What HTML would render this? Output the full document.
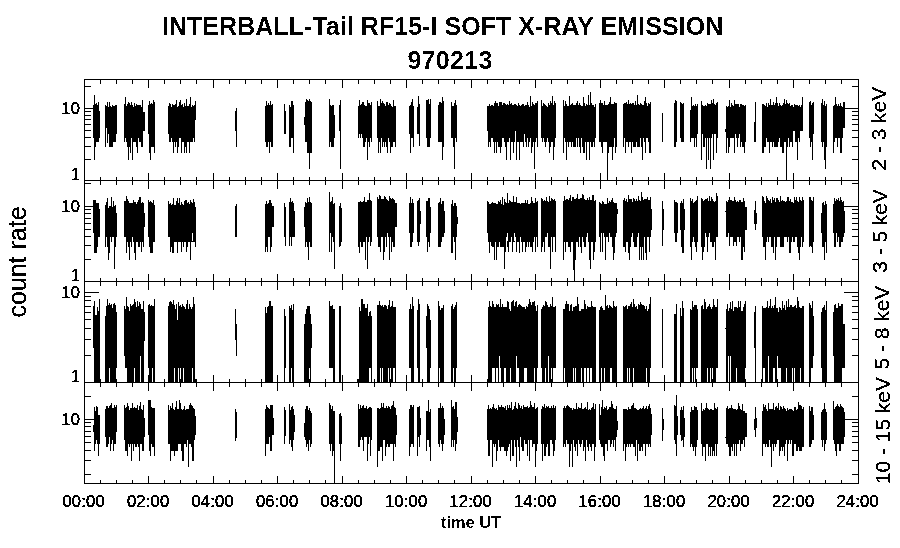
<!DOCTYPE html>
<html lang="en"><head><meta charset="utf-8"><title>INTERBALL-Tail RF15-I SOFT X-RAY EMISSION 970213</title>
<style>html,body{margin:0;padding:0;background:#fff}body{width:900px;height:548px;overflow:hidden}svg{display:block}text{font-family:"Liberation Sans",sans-serif;fill:#000;stroke:#000;stroke-width:.22px;stroke-linejoin:round}text[font-weight=bold]{stroke-width:0}text.big{stroke-width:.05px}</style></head><body>
<svg width="900" height="548" viewBox="0 0 900 548">
<rect width="900" height="548" fill="#fff"/>
<g shape-rendering="crispEdges">
<path d="M93 105v33h1v-33zM94 95v65h1v-65zM95 104v43h1v-43zM96 103v39h1v-39zM97 105v37h1v-37zM98 102v40h1v-40zM99 111v27h1v-27zM105 105v42h1v-42zM106 106v22h1v-22zM107 102v41h1v-41zM108 107v27h1v-27zM109 102v45h1v-45zM110 106v41h1v-41zM111 107v40h1v-40zM112 105v42h1v-42zM113 106v36h1v-36zM114 106v36h1v-36zM115 105v37h1v-37zM116 105v29h1v-29zM124 104v38h1v-38zM125 97v41h1v-41zM126 106v36h1v-36zM127 104v43h1v-43zM128 102v58h1v-58zM129 103v44h1v-44zM130 105v48h1v-48zM131 102v36h1v-36zM132 105v55h1v-55zM133 107v35h1v-35zM134 103v39h1v-39zM135 106v36h1v-36zM136 104v43h1v-43zM137 105v48h1v-48zM138 105v33h1v-33zM139 105v37h1v-37zM140 105v37h1v-37zM141 107v40h1v-40zM142 100v47h1v-47zM143 112v19h1v-19zM144 112v19h1v-19zM148 105v29h1v-29zM149 101v52h1v-52zM150 104v56h1v-56zM151 103v44h1v-44zM152 104v43h1v-43zM153 100v47h1v-47zM154 102v51h1v-51zM168 106v28h1v-28zM169 103v39h1v-39zM170 104v38h1v-38zM171 107v31h1v-31zM172 104v38h1v-38zM173 105v48h1v-48zM174 105v37h1v-37zM175 104v43h1v-43zM176 100v42h1v-42zM177 107v46h1v-46zM178 106v41h1v-41zM179 102v36h1v-36zM180 100v38h1v-38zM181 105v48h1v-48zM182 104v38h1v-38zM183 107v35h1v-35zM184 103v50h1v-50zM185 106v41h1v-41zM186 99v54h1v-54zM187 106v36h1v-36zM188 106v36h1v-36zM189 104v49h1v-49zM190 97v45h1v-45zM191 107v35h1v-35zM192 105v37h1v-37zM193 106v32h1v-32zM194 105v37h1v-37zM195 101v19h1v-19zM235 111v20h1v-20zM236 108v39h1v-39zM265 106v36h1v-36zM266 101v46h1v-46zM267 105v42h1v-42zM268 103v39h1v-39zM269 105v48h1v-48zM270 101v41h1v-41zM271 105v42h1v-42zM272 104v43h1v-43zM284 104v30h1v-30zM285 111v23h1v-23zM289 105v42h1v-42zM290 107v40h1v-40zM291 101v37h1v-37zM292 101v37h1v-37zM293 105v48h1v-48zM304 117v8h1v-8zM305 102v40h1v-40zM306 99v43h1v-43zM307 100v53h1v-53zM308 101v52h1v-52zM309 99v70h1v-70zM310 101v52h1v-52zM311 102v51h1v-51zM329 99v48h1v-48zM330 105v37h1v-37zM331 106v41h1v-41zM332 105v42h1v-42zM333 105v42h1v-42zM334 115v23h1v-23zM339 105v26h1v-26zM340 100v69h1v-69zM358 106v32h1v-32zM359 100v34h1v-34zM360 105v33h1v-33zM361 104v30h1v-30zM362 102v36h1v-36zM363 102v45h1v-45zM364 105v42h1v-42zM365 106v36h1v-36zM366 106v32h1v-32zM367 100v60h1v-60zM368 103v39h1v-39zM369 103v44h1v-44zM370 105v33h1v-33zM371 102v40h1v-40zM377 101v37h1v-37zM378 106v47h1v-47zM379 106v36h1v-36zM380 99v54h1v-54zM381 103v35h1v-35zM382 101v46h1v-46zM383 103v39h1v-39zM384 104v43h1v-43zM385 106v36h1v-36zM386 102v45h1v-45zM387 102v51h1v-51zM388 105v33h1v-33zM389 103v39h1v-39zM390 104v49h1v-49zM391 106v41h1v-41zM392 107v40h1v-40zM393 100v42h1v-42zM394 106v36h1v-36zM395 106v41h1v-41zM409 106v28h1v-28zM410 105v48h1v-48zM411 102v36h1v-36zM412 99v39h1v-39zM413 106v41h1v-41zM417 107v27h1v-27zM418 96v38h1v-38zM419 104v42h1v-42zM426 100v38h1v-38zM427 100v47h1v-47zM428 99v48h1v-48zM429 104v43h1v-43zM430 99v39h1v-39zM438 105v37h1v-37zM439 102v40h1v-40zM440 102v40h1v-40zM441 103v39h1v-39zM442 97v63h1v-63zM443 101v46h1v-46zM451 102v36h1v-36zM452 106v32h1v-32zM453 106v41h1v-41zM454 103v66h1v-66zM455 100v38h1v-38zM456 105v37h1v-37zM487 106v25h1v-25zM488 106v41h1v-41zM489 104v38h1v-38zM490 106v41h1v-41zM491 105v33h1v-33zM492 105v33h1v-33zM493 106v36h1v-36zM494 103v50h1v-50zM495 101v41h1v-41zM496 103v50h1v-50zM497 103v39h1v-39zM498 106v41h1v-41zM499 102v45h1v-45zM500 102v51h1v-51zM501 102v45h1v-45zM502 105v33h1v-33zM503 103v35h1v-35zM504 103v39h1v-39zM505 104v43h1v-43zM506 105v55h1v-55zM507 104v38h1v-38zM508 105v37h1v-37zM509 101v37h1v-37zM510 104v56h1v-56zM511 103v39h1v-39zM512 105v37h1v-37zM513 105v48h1v-48zM514 104v38h1v-38zM515 104v38h1v-38zM516 105v55h1v-55zM517 106v36h1v-36zM518 103v39h1v-39zM519 105v55h1v-55zM520 106v36h1v-36zM521 105v37h1v-37zM522 104v38h1v-38zM523 104v43h1v-43zM524 106v36h1v-36zM525 105v37h1v-37zM526 105v42h1v-42zM527 102v36h1v-36zM528 105v42h1v-42zM529 107v35h1v-35zM530 96v42h1v-42zM531 106v47h1v-47zM532 102v45h1v-45zM533 104v38h1v-38zM534 105v64h1v-64zM535 103v39h1v-39zM536 103v35h1v-35zM537 101v46h1v-46zM541 100v38h1v-38zM542 106v36h1v-36zM543 103v35h1v-35zM544 104v38h1v-38zM545 105v42h1v-42zM546 106v36h1v-36zM547 107v31h1v-31zM548 103v39h1v-39zM549 105v48h1v-48zM550 101v46h1v-46zM551 103v39h1v-39zM552 96v46h1v-46zM553 105v55h1v-55zM554 101v46h1v-46zM555 103v35h1v-35zM563 100v53h1v-53zM564 106v32h1v-32zM565 101v41h1v-41zM566 104v56h1v-56zM567 106v36h1v-36zM568 106v41h1v-41zM569 96v46h1v-46zM570 105v37h1v-37zM571 104v43h1v-43zM572 103v39h1v-39zM573 105v42h1v-42zM574 105v42h1v-42zM575 105v42h1v-42zM576 103v35h1v-35zM577 101v46h1v-46zM578 105v33h1v-33zM579 103v44h1v-44zM580 105v48h1v-48zM581 106v32h1v-32zM582 106v41h1v-41zM583 97v56h1v-56zM584 103v50h1v-50zM585 106v36h1v-36zM586 104v56h1v-56zM587 105v37h1v-37zM588 95v47h1v-47zM589 105v55h1v-55zM590 92v50h1v-50zM591 103v44h1v-44zM592 105v42h1v-42zM593 105v37h1v-37zM594 107v40h1v-40zM595 104v34h1v-34zM599 103v39h1v-39zM600 100v42h1v-42zM601 103v44h1v-44zM602 103v50h1v-50zM603 105v37h1v-37zM604 101v41h1v-41zM605 105v37h1v-37zM606 105v37h1v-37zM607 105v75h1v-75zM608 104v49h1v-49zM609 102v45h1v-45zM610 97v50h1v-50zM611 104v43h1v-43zM612 104v56h1v-56zM613 104v43h1v-43zM614 102v36h1v-36zM615 103v50h1v-50zM616 103v44h1v-44zM623 104v43h1v-43zM624 103v35h1v-35zM625 103v50h1v-50zM626 102v40h1v-40zM627 104v38h1v-38zM628 100v47h1v-47zM629 104v38h1v-38zM630 103v39h1v-39zM631 104v49h1v-49zM632 103v39h1v-39zM633 103v44h1v-44zM634 105v42h1v-42zM635 101v46h1v-46zM636 105v37h1v-37zM637 95v52h1v-52zM638 104v43h1v-43zM639 105v42h1v-42zM640 103v35h1v-35zM641 104v43h1v-43zM642 105v55h1v-55zM643 105v33h1v-33zM644 101v41h1v-41zM645 97v56h1v-56zM646 103v35h1v-35zM647 106v32h1v-32zM648 103v39h1v-39zM649 104v49h1v-49zM650 102v51h1v-51zM662 113v29h1v-29zM674 103v44h1v-44zM675 100v47h1v-47zM676 101v41h1v-41zM680 102v36h1v-36zM681 103v39h1v-39zM682 104v38h1v-38zM683 103v39h1v-39zM690 110v32h1v-32zM691 97v41h1v-41zM692 106v32h1v-32zM693 105v33h1v-33zM694 106v41h1v-41zM695 104v34h1v-34zM696 106v41h1v-41zM697 104v30h1v-30zM701 101v59h1v-59zM702 105v29h1v-29zM703 106v41h1v-41zM704 106v41h1v-41zM705 105v33h1v-33zM706 106v63h1v-63zM707 103v35h1v-35zM708 104v56h1v-56zM709 104v34h1v-34zM710 104v65h1v-65zM711 100v38h1v-38zM712 103v31h1v-31zM713 99v61h1v-61zM714 104v30h1v-30zM715 105v29h1v-29zM716 103v50h1v-50zM717 102v36h1v-36zM725 129v3h1v-3zM726 106v47h1v-47zM727 107v31h1v-31zM728 106v47h1v-47zM729 100v47h1v-47zM730 107v31h1v-31zM731 103v35h1v-35zM732 105v33h1v-33zM733 106v32h1v-32zM734 100v53h1v-53zM735 104v30h1v-30zM736 104v34h1v-34zM737 104v43h1v-43zM738 104v34h1v-34zM739 107v27h1v-27zM740 104v43h1v-43zM741 104v38h1v-38zM742 105v42h1v-42zM743 105v42h1v-42zM744 106v47h1v-47zM745 105v37h1v-37zM754 122v20h1v-20zM755 102v40h1v-40zM762 104v49h1v-49zM763 104v49h1v-49zM764 105v42h1v-42zM765 106v41h1v-41zM766 103v35h1v-35zM767 107v35h1v-35zM768 103v39h1v-39zM769 105v48h1v-48zM770 99v43h1v-43zM771 105v37h1v-37zM772 105v42h1v-42zM773 102v40h1v-40zM774 105v42h1v-42zM775 103v44h1v-44zM776 97v50h1v-50zM777 103v44h1v-44zM778 106v36h1v-36zM779 103v35h1v-35zM780 105v42h1v-42zM781 106v41h1v-41zM782 105v48h1v-48zM783 103v50h1v-50zM784 99v43h1v-43zM785 104v38h1v-38zM786 100v80h1v-80zM787 103v44h1v-44zM788 104v34h1v-34zM789 103v44h1v-44zM790 106v36h1v-36zM791 105v37h1v-37zM792 105v42h1v-42zM793 107v31h1v-31zM794 104v38h1v-38zM795 105v37h1v-37zM796 105v37h1v-37zM797 105v55h1v-55zM798 106v32h1v-32zM799 105v37h1v-37zM800 107v24h1v-24zM801 105v26h1v-26zM802 97v34h1v-34zM809 102v36h1v-36zM810 101v46h1v-46zM811 105v37h1v-37zM812 103v57h1v-57zM813 102v32h1v-32zM821 103v39h1v-39zM822 99v48h1v-48zM823 105v37h1v-37zM824 101v59h1v-59zM825 106v63h1v-63zM826 104v43h1v-43zM833 106v47h1v-47zM834 105v37h1v-37zM835 97v41h1v-41zM836 104v34h1v-34zM837 106v41h1v-41zM838 104v34h1v-34zM839 106v32h1v-32zM840 103v50h1v-50zM841 106v47h1v-47zM842 107v31h1v-31zM843 102v26h1v-26zM844 102v26h1v-26z" fill="#000"/><path d="M515 131v11h1v-11zM524 134v8h1v-8zM793 131v11h2v-11z" fill="#fff"/>
<path d="M93 200v33h1v-33zM94 200v53h1v-53zM95 200v53h1v-53zM96 203v50h1v-50zM97 203v44h1v-44zM98 203v34h1v-34zM99 209v28h1v-28zM105 205v42h1v-42zM106 202v35h1v-35zM107 198v49h1v-49zM108 208v52h1v-52zM109 206v47h1v-47zM110 206v31h1v-31zM111 197v45h1v-45zM112 207v30h1v-30zM113 201v36h1v-36zM114 206v63h1v-63zM115 205v42h1v-42zM116 213v24h1v-24zM124 201v36h1v-36zM125 201v36h1v-36zM126 196v57h1v-57zM127 199v43h1v-43zM128 201v46h1v-46zM129 203v57h1v-57zM130 203v39h1v-39zM131 203v44h1v-44zM132 203v34h1v-34zM133 200v42h1v-42zM134 202v51h1v-51zM135 202v58h1v-58zM136 204v38h1v-38zM137 202v40h1v-40zM138 200v47h1v-47zM139 197v50h1v-50zM140 197v45h1v-45zM141 203v49h1v-49zM142 202v40h1v-40zM143 203v44h1v-44zM144 213v14h1v-14zM148 200v37h1v-37zM149 202v45h1v-45zM150 201v52h1v-52zM151 202v51h1v-51zM152 203v50h1v-50zM153 200v42h1v-42zM154 205v37h1v-37zM168 201v36h1v-36zM169 204v33h1v-33zM170 203v49h1v-49zM171 205v42h1v-42zM172 204v49h1v-49zM173 198v55h1v-55zM174 205v37h1v-37zM175 205v37h1v-37zM176 201v41h1v-41zM177 198v55h1v-55zM178 203v39h1v-39zM179 198v44h1v-44zM180 205v37h1v-37zM181 202v50h1v-50zM182 204v38h1v-38zM183 205v42h1v-42zM184 201v41h1v-41zM185 200v42h1v-42zM186 200v52h1v-52zM187 203v44h1v-44zM188 202v40h1v-40zM189 204v38h1v-38zM190 200v60h1v-60zM191 202v40h1v-40zM192 203v39h1v-39zM193 199v43h1v-43zM194 202v40h1v-40zM195 207v40h1v-40zM235 206v31h1v-31zM236 204v33h1v-33zM265 204v48h1v-48zM266 201v46h1v-46zM267 204v48h1v-48zM268 203v34h1v-34zM269 200v37h1v-37zM270 200v52h1v-52zM271 203v44h1v-44zM272 206v21h1v-21zM273 206v21h1v-21zM284 203v34h1v-34zM285 207v39h1v-39zM289 202v44h1v-44zM290 198v39h1v-39zM291 202v44h1v-44zM292 201v36h1v-36zM293 203v34h1v-34zM294 211v26h1v-26zM304 207v20h1v-20zM305 202v45h1v-45zM306 203v39h1v-39zM307 198v49h1v-49zM308 202v58h1v-58zM309 197v45h1v-45zM310 202v45h1v-45zM311 203v44h1v-44zM329 192v60h1v-60zM330 202v31h1v-31zM331 201v51h1v-51zM332 197v40h1v-40zM333 204v38h1v-38zM334 203v66h1v-66zM339 206v41h1v-41zM340 203v43h1v-43zM341 208v34h1v-34zM358 202v45h1v-45zM359 202v51h1v-51zM360 201v41h1v-41zM361 202v45h1v-45zM362 202v45h1v-45zM363 201v41h1v-41zM364 197v45h1v-45zM365 202v58h1v-58zM366 202v35h1v-35zM367 200v69h1v-69zM368 200v42h1v-42zM369 193v44h1v-44zM370 200v46h1v-46zM371 201v41h1v-41zM377 197v40h1v-40zM378 199v48h1v-48zM379 195v52h1v-52zM380 196v56h1v-56zM381 199v38h1v-38zM382 199v38h1v-38zM383 199v61h1v-61zM384 196v56h1v-56zM385 197v40h1v-40zM386 199v48h1v-48zM387 200v37h1v-37zM388 201v36h1v-36zM389 196v64h1v-64zM390 198v39h1v-39zM391 199v53h1v-53zM392 198v44h1v-44zM393 199v48h1v-48zM394 200v47h1v-47zM395 203v24h1v-24zM396 203v24h1v-24zM409 203v30h1v-30zM410 197v50h1v-50zM411 203v44h1v-44zM412 199v43h1v-43zM413 203v30h1v-30zM417 201v41h1v-41zM418 200v46h1v-46zM419 198v44h1v-44zM420 211v13h1v-13zM426 201v36h1v-36zM427 201v51h1v-51zM428 198v44h1v-44zM429 198v49h1v-49zM430 207v26h1v-26zM438 203v44h1v-44zM439 202v45h1v-45zM440 198v49h1v-49zM441 204v38h1v-38zM442 201v36h1v-36zM443 201v36h1v-36zM444 211v22h1v-22zM451 204v49h1v-49zM452 200v53h1v-53zM453 206v31h1v-31zM454 203v39h1v-39zM455 203v57h1v-57zM456 206v31h1v-31zM457 217v7h1v-7zM487 201v32h1v-32zM488 202v40h1v-40zM489 204v49h1v-49zM490 204v38h1v-38zM491 203v43h1v-43zM492 202v45h1v-45zM493 203v44h1v-44zM494 203v57h1v-57zM495 203v39h1v-39zM496 204v56h1v-56zM497 204v43h1v-43zM498 201v46h1v-46zM499 202v40h1v-40zM500 200v47h1v-47zM501 204v43h1v-43zM502 197v50h1v-50zM503 205v42h1v-42zM504 199v70h1v-70zM505 202v50h1v-50zM506 203v34h1v-34zM507 193v54h1v-54zM508 203v49h1v-49zM509 200v42h1v-42zM510 201v41h1v-41zM511 202v35h1v-35zM512 202v50h1v-50zM513 196v46h1v-46zM514 202v40h1v-40zM515 202v35h1v-35zM516 197v55h1v-55zM517 203v39h1v-39zM518 203v39h1v-39zM519 203v50h1v-50zM520 204v33h1v-33zM521 203v39h1v-39zM522 203v49h1v-49zM523 203v39h1v-39zM524 203v39h1v-39zM525 200v52h1v-52zM526 203v44h1v-44zM527 200v42h1v-42zM528 204v43h1v-43zM529 204v38h1v-38zM530 203v44h1v-44zM531 197v50h1v-50zM532 201v51h1v-51zM533 203v39h1v-39zM534 203v34h1v-34zM535 198v54h1v-54zM536 202v35h1v-35zM537 201v46h1v-46zM541 198v54h1v-54zM542 199v48h1v-48zM543 201v41h1v-41zM544 200v52h1v-52zM545 201v36h1v-36zM546 197v40h1v-40zM547 201v32h1v-32zM548 202v45h1v-45zM549 196v51h1v-51zM550 201v68h1v-68zM551 198v39h1v-39zM552 199v53h1v-53zM553 200v37h1v-37zM554 199v38h1v-38zM555 201v51h1v-51zM563 201v59h1v-59zM564 196v46h1v-46zM565 200v52h1v-52zM566 199v43h1v-43zM567 199v43h1v-43zM568 200v47h1v-47zM569 198v49h1v-49zM570 195v57h1v-57zM571 201v41h1v-41zM572 197v45h1v-45zM573 197v73h1v-73zM574 199v82h1v-82zM575 199v61h1v-61zM576 198v44h1v-44zM577 194v48h1v-48zM578 199v48h1v-48zM579 199v38h1v-38zM580 198v49h1v-49zM581 198v55h1v-55zM582 194v43h1v-43zM583 195v47h1v-47zM584 199v48h1v-48zM585 200v47h1v-47zM586 200v37h1v-37zM587 198v39h1v-39zM588 200v42h1v-42zM589 197v63h1v-63zM590 200v69h1v-69zM591 200v42h1v-42zM592 195v47h1v-47zM593 195v65h1v-65zM594 201v51h1v-51zM595 200v42h1v-42zM599 202v35h1v-35zM600 203v49h1v-49zM601 204v29h1v-29zM602 201v51h1v-51zM603 202v31h1v-31zM604 204v33h1v-33zM605 204v56h1v-56zM606 204v33h1v-33zM607 198v39h1v-39zM608 203v39h1v-39zM609 201v32h1v-32zM610 202v35h1v-35zM611 200v37h1v-37zM612 198v49h1v-49zM613 202v58h1v-58zM614 203v50h1v-50zM615 203v34h1v-34zM616 203v30h1v-30zM617 209v5h1v-5zM623 200v47h1v-47zM624 198v49h1v-49zM625 201v51h1v-51zM626 199v43h1v-43zM627 202v40h1v-40zM628 195v58h1v-58zM629 199v61h1v-61zM630 199v48h1v-48zM631 199v38h1v-38zM632 202v31h1v-31zM633 198v44h1v-44zM634 199v48h1v-48zM635 201v46h1v-46zM636 199v48h1v-48zM637 201v36h1v-36zM638 196v37h1v-37zM639 200v60h1v-60zM640 201v46h1v-46zM641 192v68h1v-68zM642 197v50h1v-50zM643 200v60h1v-60zM644 199v38h1v-38zM645 199v54h1v-54zM646 199v61h1v-61zM647 197v40h1v-40zM648 200v37h1v-37zM649 200v52h1v-52zM650 197v40h1v-40zM651 209v21h1v-21zM662 201v45h1v-45zM663 209v21h1v-21zM674 200v33h1v-33zM675 202v40h1v-40zM676 202v40h1v-40zM677 203v30h1v-30zM680 203v27h1v-27zM681 201v46h1v-46zM682 203v50h1v-50zM683 199v54h1v-54zM684 209v21h1v-21zM690 198v49h1v-49zM691 201v59h1v-59zM692 199v43h1v-43zM693 203v34h1v-34zM694 202v40h1v-40zM695 201v46h1v-46zM696 200v52h1v-52zM697 196v46h1v-46zM701 198v49h1v-49zM702 199v61h1v-61zM703 201v51h1v-51zM704 200v47h1v-47zM705 199v34h1v-34zM706 199v38h1v-38zM707 198v54h1v-54zM708 201v36h1v-36zM709 196v37h1v-37zM710 201v41h1v-41zM711 197v45h1v-45zM712 199v48h1v-48zM713 201v46h1v-46zM714 202v40h1v-40zM715 201v59h1v-59zM716 193v44h1v-44zM717 196v41h1v-41zM725 211v1h1v-1zM726 201v36h1v-36zM727 202v35h1v-35zM728 200v33h1v-33zM729 197v49h1v-49zM730 200v37h1v-37zM731 200v37h1v-37zM732 201v36h1v-36zM733 201v45h1v-45zM734 197v45h1v-45zM735 200v42h1v-42zM736 202v44h1v-44zM737 201v36h1v-36zM738 202v35h1v-35zM739 200v42h1v-42zM740 200v37h1v-37zM741 202v58h1v-58zM742 202v58h1v-58zM743 198v49h1v-49zM744 201v51h1v-51zM745 207v23h1v-23zM746 207v23h1v-23zM754 210v14h1v-14zM755 201v29h1v-29zM756 213v11h1v-11zM762 196v41h1v-41zM763 197v50h1v-50zM764 201v46h1v-46zM765 203v57h1v-57zM766 196v46h1v-46zM767 198v39h1v-39zM768 200v42h1v-42zM769 201v36h1v-36zM770 199v38h1v-38zM771 203v44h1v-44zM772 197v50h1v-50zM773 200v53h1v-53zM774 198v39h1v-39zM775 202v58h1v-58zM776 198v49h1v-49zM777 198v39h1v-39zM778 200v37h1v-37zM779 202v35h1v-35zM780 196v51h1v-51zM781 201v46h1v-46zM782 200v47h1v-47zM783 201v46h1v-46zM784 201v36h1v-36zM785 202v35h1v-35zM786 201v36h1v-36zM787 197v45h1v-45zM788 197v40h1v-40zM789 201v52h1v-52zM790 199v54h1v-54zM791 202v40h1v-40zM792 202v35h1v-35zM793 203v39h1v-39zM794 197v45h1v-45zM795 200v37h1v-37zM796 197v40h1v-40zM797 201v46h1v-46zM798 202v51h1v-51zM799 197v63h1v-63zM800 200v47h1v-47zM801 201v36h1v-36zM802 197v50h1v-50zM803 200v42h1v-42zM809 197v50h1v-50zM810 197v49h1v-49zM811 200v47h1v-47zM812 201v52h1v-52zM813 197v45h1v-45zM821 213v20h1v-20zM822 203v44h1v-44zM823 202v45h1v-45zM824 205v55h1v-55zM825 201v41h1v-41zM826 204v49h1v-49zM833 204v29h1v-29zM834 198v49h1v-49zM835 201v46h1v-46zM836 199v34h1v-34zM837 200v42h1v-42zM838 198v39h1v-39zM839 201v46h1v-46zM840 197v50h1v-50zM841 200v42h1v-42zM842 202v40h1v-40zM843 201v36h1v-36zM844 211v22h1v-22z" fill="#000"/><path d="M192 233v8h1v-8zM387 233v6h1v-6zM507 233v8h1v-8zM514 233v8h1v-8zM587 233v8h1v-8z" fill="#fff"/>
<path d="M93 306v76h1v-76zM94 301v81h1v-81zM95 315v67h1v-67zM96 315v67h1v-67zM97 307v75h1v-75zM98 311v71h1v-71zM99 299v83h1v-83zM100 379v3h1v-3zM105 316v66h1v-66zM106 306v76h1v-76zM107 299v83h1v-83zM108 305v77h1v-77zM109 303v79h1v-79zM110 305v77h1v-77zM111 304v78h1v-78zM112 308v74h1v-74zM113 304v78h1v-78zM114 303v79h1v-79zM115 305v77h1v-77zM116 312v70h1v-70zM124 306v76h1v-76zM125 309v73h1v-73zM126 297v85h1v-85zM127 306v76h1v-76zM128 307v75h1v-75zM129 311v71h1v-71zM130 304v78h1v-78zM131 306v76h1v-76zM132 305v77h1v-77zM133 304v78h1v-78zM134 299v83h1v-83zM135 302v80h1v-80zM136 307v75h1v-75zM137 301v81h1v-81zM138 306v76h1v-76zM139 302v80h1v-80zM140 304v78h1v-78zM141 309v73h1v-73zM142 309v73h1v-73zM143 301v81h1v-81zM144 312v70h1v-70zM148 305v77h1v-77zM149 304v78h1v-78zM150 306v76h1v-76zM151 305v77h1v-77zM152 306v76h1v-76zM153 306v76h1v-76zM154 299v83h1v-83zM168 306v76h1v-76zM169 302v80h1v-80zM170 301v81h1v-81zM171 302v80h1v-80zM172 304v78h1v-78zM173 300v82h1v-82zM174 305v77h1v-77zM175 309v73h1v-73zM176 304v78h1v-78zM177 320v62h1v-62zM178 302v80h1v-80zM179 306v76h1v-76zM180 305v77h1v-77zM181 307v75h1v-75zM182 304v78h1v-78zM183 306v76h1v-76zM184 307v75h1v-75zM185 309v73h1v-73zM186 304v78h1v-78zM187 300v82h1v-82zM188 309v73h1v-73zM189 304v78h1v-78zM190 307v75h1v-75zM191 309v73h1v-73zM192 307v75h1v-75zM193 297v85h1v-85zM194 304v78h1v-78zM195 379v3h1v-3zM235 309v73h1v-73zM236 324v58h1v-58zM265 307v75h1v-75zM266 313v69h1v-69zM267 307v75h1v-75zM268 306v76h1v-76zM269 301v81h1v-81zM270 301v81h1v-81zM271 306v76h1v-76zM272 306v76h1v-76zM284 309v73h1v-73zM285 316v66h1v-66zM289 306v76h1v-76zM290 308v74h1v-74zM291 305v77h1v-77zM292 310v72h1v-72zM293 304v78h1v-78zM304 324v58h1v-58zM305 314v68h1v-68zM306 309v73h1v-73zM307 306v76h1v-76zM308 306v76h1v-76zM309 306v76h1v-76zM310 314v68h1v-68zM311 324v58h1v-58zM329 301v81h1v-81zM330 306v76h1v-76zM331 306v76h1v-76zM332 305v77h1v-77zM333 309v73h1v-73zM334 309v73h1v-73zM339 306v76h1v-76zM340 306v76h1v-76zM358 379v3h1v-3zM359 307v75h1v-75zM360 311v71h1v-71zM361 299v83h1v-83zM362 299v83h1v-83zM363 304v78h1v-78zM364 304v78h1v-78zM365 308v74h1v-74zM366 308v74h1v-74zM367 304v78h1v-78zM368 316v66h1v-66zM369 312v70h1v-70zM370 311v71h1v-71zM371 316v66h1v-66zM377 305v77h1v-77zM378 305v77h1v-77zM379 301v81h1v-81zM380 305v77h1v-77zM381 306v76h1v-76zM382 305v77h1v-77zM383 307v75h1v-75zM384 305v77h1v-77zM385 305v77h1v-77zM386 306v76h1v-76zM387 309v73h1v-73zM388 305v77h1v-77zM389 300v82h1v-82zM390 307v75h1v-75zM391 306v76h1v-76zM392 301v81h1v-81zM393 307v75h1v-75zM394 307v75h1v-75zM395 307v75h1v-75zM409 309v73h1v-73zM410 304v78h1v-78zM411 309v73h1v-73zM412 297v85h1v-85zM413 306v76h1v-76zM417 310v72h1v-72zM418 299v83h1v-83zM419 304v78h1v-78zM426 316v66h1v-66zM427 304v78h1v-78zM428 306v76h1v-76zM429 309v73h1v-73zM430 320v62h1v-62zM438 301v81h1v-81zM439 306v76h1v-76zM440 310v72h1v-72zM441 308v74h1v-74zM442 308v74h1v-74zM443 305v77h1v-77zM451 306v76h1v-76zM452 304v78h1v-78zM453 309v73h1v-73zM454 307v75h1v-75zM455 305v77h1v-77zM456 302v80h1v-80zM487 379v3h1v-3zM488 307v75h1v-75zM489 301v81h1v-81zM490 306v76h1v-76zM491 307v75h1v-75zM492 301v81h1v-81zM493 304v78h1v-78zM494 307v75h1v-75zM495 307v75h1v-75zM496 304v78h1v-78zM497 305v77h1v-77zM498 304v78h1v-78zM499 307v75h1v-75zM500 299v83h1v-83zM501 307v75h1v-75zM502 304v78h1v-78zM503 307v75h1v-75zM504 307v75h1v-75zM505 307v75h1v-75zM506 307v75h1v-75zM507 301v81h1v-81zM508 302v80h1v-80zM509 309v73h1v-73zM510 311v71h1v-71zM511 302v80h1v-80zM512 301v81h1v-81zM513 300v82h1v-82zM514 306v76h1v-76zM515 302v80h1v-80zM516 301v81h1v-81zM517 307v75h1v-75zM518 305v77h1v-77zM519 304v78h1v-78zM520 305v77h1v-77zM521 306v76h1v-76zM522 307v75h1v-75zM523 307v75h1v-75zM524 307v75h1v-75zM525 309v73h1v-73zM526 306v76h1v-76zM527 307v75h1v-75zM528 304v78h1v-78zM529 299v83h1v-83zM530 302v80h1v-80zM531 305v77h1v-77zM532 302v80h1v-80zM533 302v80h1v-80zM534 301v81h1v-81zM535 306v76h1v-76zM536 311v71h1v-71zM537 305v77h1v-77zM541 309v73h1v-73zM542 307v75h1v-75zM543 305v77h1v-77zM544 306v76h1v-76zM545 301v81h1v-81zM546 302v80h1v-80zM547 305v77h1v-77zM548 307v75h1v-75zM549 307v75h1v-75zM550 304v78h1v-78zM551 306v76h1v-76zM552 297v85h1v-85zM553 307v75h1v-75zM554 307v75h1v-75zM555 306v76h1v-76zM563 309v73h1v-73zM564 309v73h1v-73zM565 304v78h1v-78zM566 301v81h1v-81zM567 304v78h1v-78zM568 304v78h1v-78zM569 311v71h1v-71zM570 305v77h1v-77zM571 304v78h1v-78zM572 311v71h1v-71zM573 307v75h1v-75zM574 307v75h1v-75zM575 306v76h1v-76zM576 306v76h1v-76zM577 297v85h1v-85zM578 304v78h1v-78zM579 311v71h1v-71zM580 311v71h1v-71zM581 309v73h1v-73zM582 309v73h1v-73zM583 309v73h1v-73zM584 300v82h1v-82zM585 304v78h1v-78zM586 309v73h1v-73zM587 306v76h1v-76zM588 307v75h1v-75zM589 307v75h1v-75zM590 307v75h1v-75zM591 301v81h1v-81zM592 306v76h1v-76zM593 307v75h1v-75zM594 307v75h1v-75zM595 307v75h1v-75zM599 310v72h1v-72zM600 307v75h1v-75zM601 306v76h1v-76zM602 308v74h1v-74zM603 310v72h1v-72zM604 310v72h1v-72zM605 295v87h1v-87zM606 306v76h1v-76zM607 305v77h1v-77zM608 308v74h1v-74zM609 305v77h1v-77zM610 306v76h1v-76zM611 307v75h1v-75zM612 308v74h1v-74zM613 301v81h1v-81zM614 306v76h1v-76zM615 307v75h1v-75zM616 306v76h1v-76zM623 306v76h1v-76zM624 307v75h1v-75zM625 306v76h1v-76zM626 305v77h1v-77zM627 309v73h1v-73zM628 306v76h1v-76zM629 306v76h1v-76zM630 304v78h1v-78zM631 302v80h1v-80zM632 307v75h1v-75zM633 299v83h1v-83zM634 304v78h1v-78zM635 307v75h1v-75zM636 306v76h1v-76zM637 309v73h1v-73zM638 304v78h1v-78zM639 305v77h1v-77zM640 302v80h1v-80zM641 304v78h1v-78zM642 305v77h1v-77zM643 305v77h1v-77zM644 306v76h1v-76zM645 309v73h1v-73zM646 306v76h1v-76zM647 311v71h1v-71zM648 309v73h1v-73zM649 304v78h1v-78zM650 297v85h1v-85zM662 309v73h1v-73zM674 314v68h1v-68zM675 314v68h1v-68zM676 304v78h1v-78zM680 308v74h1v-74zM681 316v66h1v-66zM682 301v81h1v-81zM683 308v74h1v-74zM690 309v73h1v-73zM691 310v72h1v-72zM692 301v81h1v-81zM693 307v75h1v-75zM694 305v77h1v-77zM695 305v77h1v-77zM696 305v77h1v-77zM697 309v73h1v-73zM701 306v76h1v-76zM702 305v77h1v-77zM703 309v73h1v-73zM704 299v83h1v-83zM705 302v80h1v-80zM706 309v73h1v-73zM707 307v75h1v-75zM708 306v76h1v-76zM709 304v78h1v-78zM710 307v75h1v-75zM711 309v73h1v-73zM712 307v75h1v-75zM713 299v83h1v-83zM714 305v77h1v-77zM715 307v75h1v-75zM716 307v75h1v-75zM717 299v83h1v-83zM725 328v1h1v-1zM726 309v73h1v-73zM727 304v78h1v-78zM728 311v71h1v-71zM729 308v74h1v-74zM730 302v80h1v-80zM731 309v73h1v-73zM732 301v81h1v-81zM733 311v71h1v-71zM734 307v75h1v-75zM735 307v75h1v-75zM736 307v75h1v-75zM737 308v74h1v-74zM738 301v81h1v-81zM739 307v75h1v-75zM740 301v81h1v-81zM741 311v71h1v-71zM742 311v71h1v-71zM743 307v75h1v-75zM744 304v78h1v-78zM745 301v81h1v-81zM754 312v70h1v-70zM755 306v76h1v-76zM762 306v76h1v-76zM763 308v74h1v-74zM764 308v74h1v-74zM765 308v74h1v-74zM766 307v75h1v-75zM767 301v81h1v-81zM768 308v74h1v-74zM769 306v76h1v-76zM770 299v83h1v-83zM771 308v74h1v-74zM772 306v76h1v-76zM773 308v74h1v-74zM774 305v77h1v-77zM775 297v85h1v-85zM776 308v74h1v-74zM777 308v74h1v-74zM778 312v70h1v-70zM779 307v75h1v-75zM780 308v74h1v-74zM781 310v72h1v-72zM782 301v81h1v-81zM783 308v74h1v-74zM784 305v77h1v-77zM785 310v72h1v-72zM786 301v81h1v-81zM787 307v75h1v-75zM788 299v83h1v-83zM789 307v75h1v-75zM790 305v77h1v-77zM791 305v77h1v-77zM792 307v75h1v-75zM793 307v75h1v-75zM794 306v76h1v-76zM795 305v77h1v-77zM796 308v74h1v-74zM797 297v85h1v-85zM798 301v81h1v-81zM799 307v75h1v-75zM800 308v74h1v-74zM801 308v74h1v-74zM802 306v76h1v-76zM803 306v76h1v-76zM809 303v79h1v-79zM810 305v77h1v-77zM811 308v74h1v-74zM812 301v81h1v-81zM813 316v66h1v-66zM821 312v70h1v-70zM822 308v74h1v-74zM823 307v75h1v-75zM824 305v77h1v-77zM825 310v72h1v-72zM826 301v81h1v-81zM833 312v70h1v-70zM834 305v77h1v-77zM835 304v78h1v-78zM836 308v74h1v-74zM837 308v74h1v-74zM838 303v79h1v-79zM839 306v76h1v-76zM840 306v76h1v-76zM841 304v78h1v-78zM842 304v78h1v-78zM843 324v58h1v-58zM844 324v58h1v-58z" fill="#000"/><path d="M93 348v34h1v-34zM124 356v26h1v-26zM125 368v14h2v-14zM144 341v41h1v-41zM148 368v7h1v-7zM236 356v26h1v-26zM235 340v42h1v-42zM285 368v14h1v-14zM311 348v34h1v-34zM329 368v14h4v-14zM358 356v23h1v-23zM409 368v14h2v-14zM417 368v14h1v-14zM426 348v34h1v-34zM430 368v14h1v-14zM456 368v14h2v-14zM487 356v23h1v-23zM662 368v14h1v-14zM716 368v14h2v-14zM754 348v34h1v-34zM811 368v14h2v-14zM813 356v26h1v-26zM821 368v14h1v-14zM833 356v26h1v-26zM842 368v14h3v-14zM109 368v14h1v-14zM116 368v11h1v-11zM134 368v14h1v-14zM140 356v26h1v-26zM152 368v14h1v-14zM174 368v14h1v-14zM178 368v14h1v-14zM180 368v11h1v-11zM183 368v14h1v-14zM192 368v14h1v-14zM291 368v14h1v-14zM309 368v11h1v-11zM369 368v14h2v-14zM380 368v14h1v-14zM382 368v14h1v-14zM388 368v14h1v-14zM390 368v11h1v-11zM393 368v14h2v-14zM439 368v14h1v-14zM453 368v14h1v-14zM492 368v14h3v-14zM496 368v14h2v-14zM499 356v26h1v-26zM500 368v14h1v-14zM504 368v14h2v-14zM510 368v14h1v-14zM516 356v26h1v-26zM517 368v14h2v-14zM524 368v14h3v-14zM534 368v14h1v-14zM537 368v14h1v-14zM541 368v14h1v-14zM545 368v14h1v-14zM548 356v26h1v-26zM551 368v14h1v-14zM553 368v14h1v-14zM554 368v14h2v-14zM564 368v14h1v-14zM573 368v14h1v-14zM575 368v14h1v-14zM581 368v14h1v-14zM584 368v14h2v-14zM587 368v14h2v-14zM590 368v14h2v-14zM601 368v14h1v-14zM604 368v14h1v-14zM610 368v14h2v-14zM627 368v14h1v-14zM629 368v14h1v-14zM633 368v14h1v-14zM646 368v14h1v-14zM650 368v14h2v-14zM692 368v14h1v-14zM694 368v14h1v-14zM696 368v14h2v-14zM707 368v14h1v-14zM710 368v14h1v-14zM712 368v11h1v-11zM728 356v26h1v-26zM730 356v26h1v-26zM736 368v14h1v-14zM745 368v11h1v-11zM763 368v14h2v-14zM768 356v26h1v-26zM773 368v14h2v-14zM777 356v23h1v-23zM778 368v14h3v-14zM786 368v14h1v-14zM792 368v14h1v-14zM794 368v14h1v-14zM800 368v14h1v-14z" fill="#fff"/><path d="M100 379v3h1v-3zM196 379v3h1v-3zM761 379v3h1v-3zM357 379v3h1v-3z" fill="#000"/>
<path d="M93 425v7h1v-7zM94 407v44h1v-44zM95 411v33h1v-33zM96 406v34h1v-34zM97 407v37h1v-37zM98 415v41h1v-41zM99 415v29h1v-29zM105 409v28h1v-28zM106 406v41h1v-41zM107 406v41h1v-41zM108 408v36h1v-36zM109 406v31h1v-31zM110 405v46h1v-46zM111 403v41h1v-41zM112 408v32h1v-32zM113 408v43h1v-43zM114 405v39h1v-39zM115 407v37h1v-37zM116 405v27h1v-27zM124 405v35h1v-35zM125 408v43h1v-43zM126 407v44h1v-44zM127 403v53h1v-53zM128 406v38h1v-38zM129 410v37h1v-37zM130 408v36h1v-36zM131 408v53h1v-53zM132 403v41h1v-41zM133 408v43h1v-43zM134 407v37h1v-37zM135 408v39h1v-39zM136 408v39h1v-39zM137 405v39h1v-39zM138 410v37h1v-37zM139 406v55h1v-55zM140 402v42h1v-42zM141 409v35h1v-35zM142 410v41h1v-41zM143 405v46h1v-46zM144 418v19h1v-19zM148 400v35h1v-35zM149 400v51h1v-51zM150 400v56h1v-56zM151 407v37h1v-37zM152 408v39h1v-39zM153 408v39h1v-39zM154 408v48h1v-48zM168 405v39h1v-39zM169 410v34h1v-34zM170 406v55h1v-55zM171 408v43h1v-43zM172 403v48h1v-48zM173 409v42h1v-42zM174 410v46h1v-46zM175 407v44h1v-44zM176 401v50h1v-50zM177 409v42h1v-42zM178 409v35h1v-35zM179 400v44h1v-44zM180 403v41h1v-41zM181 409v42h1v-42zM182 410v51h1v-51zM183 409v52h1v-52zM184 406v38h1v-38zM185 410v34h1v-34zM186 409v38h1v-38zM187 409v31h1v-31zM188 409v58h1v-58zM189 405v39h1v-39zM190 403v41h1v-41zM191 405v42h1v-42zM192 406v55h1v-55zM193 408v53h1v-53zM194 409v31h1v-31zM195 416v19h1v-19zM235 409v32h1v-32zM236 412v26h1v-26zM265 409v47h1v-47zM266 405v39h1v-39zM267 407v37h1v-37zM268 408v36h1v-36zM269 409v28h1v-28zM270 405v46h1v-46zM271 405v46h1v-46zM272 405v30h1v-30zM273 418v17h1v-17zM284 407v37h1v-37zM285 410v26h1v-26zM289 404v40h1v-40zM290 410v30h1v-30zM291 407v40h1v-40zM292 406v45h1v-45zM293 409v31h1v-31zM294 415v17h1v-17zM304 423v14h1v-14zM305 409v31h1v-31zM306 406v41h1v-41zM307 406v38h1v-38zM308 410v41h1v-41zM309 408v32h1v-32zM310 411v36h1v-36zM311 413v31h1v-31zM329 403v41h1v-41zM330 405v46h1v-46zM331 409v35h1v-35zM332 406v50h1v-50zM333 411v40h1v-40zM334 411v72h1v-72zM339 414v30h1v-30zM340 413v48h1v-48zM341 416v28h1v-28zM358 404v43h1v-43zM359 409v38h1v-38zM360 405v35h1v-35zM361 408v29h1v-29zM362 406v34h1v-34zM363 405v46h1v-46zM364 408v29h1v-29zM365 408v29h1v-29zM366 406v31h1v-31zM367 409v52h1v-52zM368 408v36h1v-36zM369 407v30h1v-30zM370 407v49h1v-49zM371 408v32h1v-32zM377 408v59h1v-59zM378 408v43h1v-43zM379 409v42h1v-42zM380 408v39h1v-39zM381 403v44h1v-44zM382 407v54h1v-54zM383 403v37h1v-37zM384 408v32h1v-32zM385 408v48h1v-48zM386 406v41h1v-41zM387 408v36h1v-36zM388 406v41h1v-41zM389 407v40h1v-40zM390 409v35h1v-35zM391 406v38h1v-38zM392 405v39h1v-39zM393 401v60h1v-60zM394 407v37h1v-37zM395 408v39h1v-39zM396 415v20h1v-20zM409 409v47h1v-47zM410 405v42h1v-42zM411 405v39h1v-39zM412 407v37h1v-37zM413 405v42h1v-42zM417 407v49h1v-49zM418 407v30h1v-30zM419 406v41h1v-41zM420 418v17h1v-17zM426 411v40h1v-40zM427 411v29h1v-29zM428 400v40h1v-40zM429 412v35h1v-35zM430 409v52h1v-52zM438 408v36h1v-36zM439 408v39h1v-39zM440 403v37h1v-37zM441 408v36h1v-36zM442 406v45h1v-45zM443 408v36h1v-36zM444 419v16h1v-16zM451 400v47h1v-47zM452 407v33h1v-33zM453 406v41h1v-41zM454 409v31h1v-31zM455 402v49h1v-49zM456 402v42h1v-42zM457 417v15h1v-15zM487 409v31h1v-31zM488 405v51h1v-51zM489 409v47h1v-47zM490 408v32h1v-32zM491 409v31h1v-31zM492 407v60h1v-60zM493 404v40h1v-40zM494 408v39h1v-39zM495 409v35h1v-35zM496 408v53h1v-53zM497 410v41h1v-41zM498 405v35h1v-35zM499 407v40h1v-40zM500 407v44h1v-44zM501 405v42h1v-42zM502 407v40h1v-40zM503 407v40h1v-40zM504 408v43h1v-43zM505 406v45h1v-45zM506 410v46h1v-46zM507 405v46h1v-46zM508 408v39h1v-39zM509 405v39h1v-39zM510 408v53h1v-53zM511 402v38h1v-38zM512 410v46h1v-46zM513 409v47h1v-47zM514 406v34h1v-34zM515 402v45h1v-45zM516 408v59h1v-59zM517 409v31h1v-31zM518 403v44h1v-44zM519 405v56h1v-56zM520 408v32h1v-32zM521 406v41h1v-41zM522 409v42h1v-42zM523 405v46h1v-46zM524 407v33h1v-33zM525 407v37h1v-37zM526 407v37h1v-37zM527 406v50h1v-50zM528 408v32h1v-32zM529 407v54h1v-54zM530 401v39h1v-39zM531 405v35h1v-35zM532 407v40h1v-40zM533 407v37h1v-37zM534 403v41h1v-41zM535 409v58h1v-58zM536 408v43h1v-43zM537 407v37h1v-37zM541 409v35h1v-35zM542 406v55h1v-55zM543 407v37h1v-37zM544 404v52h1v-52zM545 408v48h1v-48zM546 406v41h1v-41zM547 407v37h1v-37zM548 406v50h1v-50zM549 408v48h1v-48zM550 408v32h1v-32zM551 406v34h1v-34zM552 408v36h1v-36zM553 405v51h1v-51zM554 408v43h1v-43zM555 406v34h1v-34zM563 408v39h1v-39zM564 406v38h1v-38zM565 408v39h1v-39zM566 406v34h1v-34zM567 405v39h1v-39zM568 406v38h1v-38zM569 407v60h1v-60zM570 408v43h1v-43zM571 408v36h1v-36zM572 410v57h1v-57zM573 408v32h1v-32zM574 409v38h1v-38zM575 409v42h1v-42zM576 403v41h1v-41zM577 409v47h1v-47zM578 407v33h1v-33zM579 408v36h1v-36zM580 408v39h1v-39zM581 403v41h1v-41zM582 409v31h1v-31zM583 409v42h1v-42zM584 408v39h1v-39zM585 407v54h1v-54zM586 409v31h1v-31zM587 402v45h1v-45zM588 410v41h1v-41zM589 409v35h1v-35zM590 410v37h1v-37zM591 408v43h1v-43zM592 407v37h1v-37zM593 403v41h1v-41zM594 409v52h1v-52zM595 404v43h1v-43zM599 404v36h1v-36zM600 415v29h1v-29zM601 407v40h1v-40zM602 400v47h1v-47zM603 409v47h1v-47zM604 407v54h1v-54zM605 408v36h1v-36zM606 406v38h1v-38zM607 410v41h1v-41zM608 409v31h1v-31zM609 407v33h1v-33zM610 407v40h1v-40zM611 401v43h1v-43zM612 404v36h1v-36zM613 408v39h1v-39zM614 409v31h1v-31zM615 409v42h1v-42zM616 406v31h1v-31zM617 421v9h1v-9zM623 409v42h1v-42zM624 409v35h1v-35zM625 409v52h1v-52zM626 409v38h1v-38zM627 410v34h1v-34zM628 407v40h1v-40zM629 409v35h1v-35zM630 409v38h1v-38zM631 406v38h1v-38zM632 405v39h1v-39zM633 403v44h1v-44zM634 408v39h1v-39zM635 408v48h1v-48zM636 409v31h1v-31zM637 410v51h1v-51zM638 410v34h1v-34zM639 409v42h1v-42zM640 408v43h1v-43zM641 409v38h1v-38zM642 408v43h1v-43zM643 406v38h1v-38zM644 409v35h1v-35zM645 408v48h1v-48zM646 406v38h1v-38zM647 409v35h1v-35zM648 406v41h1v-41zM649 404v40h1v-40zM650 408v39h1v-39zM651 414v21h1v-21zM662 408v33h1v-33zM663 419v11h1v-11zM674 405v35h1v-35zM675 406v38h1v-38zM676 395v61h1v-61zM677 416v19h1v-19zM680 410v25h1v-25zM681 407v34h1v-34zM682 410v30h1v-30zM683 406v41h1v-41zM684 418v19h1v-19zM690 412v35h1v-35zM691 407v37h1v-37zM692 410v37h1v-37zM693 410v41h1v-41zM694 406v41h1v-41zM695 407v49h1v-49zM696 407v40h1v-40zM697 410v30h1v-30zM701 403v41h1v-41zM702 411v45h1v-45zM703 409v38h1v-38zM704 410v37h1v-37zM705 408v53h1v-53zM706 403v41h1v-41zM707 408v36h1v-36zM708 409v47h1v-47zM709 410v37h1v-37zM710 409v47h1v-47zM711 409v38h1v-38zM712 410v46h1v-46zM713 410v41h1v-41zM714 403v53h1v-53zM715 408v36h1v-36zM716 409v47h1v-47zM717 407v37h1v-37zM725 437v1h1v-1zM726 408v36h1v-36zM727 406v38h1v-38zM728 409v38h1v-38zM729 408v48h1v-48zM730 408v48h1v-48zM731 405v42h1v-42zM732 408v43h1v-43zM733 409v35h1v-35zM734 409v47h1v-47zM735 409v35h1v-35zM736 410v46h1v-46zM737 409v35h1v-35zM738 403v41h1v-41zM739 406v34h1v-34zM740 409v42h1v-42zM741 410v34h1v-34zM742 404v40h1v-40zM743 411v29h1v-29zM744 411v36h1v-36zM745 413v24h1v-24zM746 413v24h1v-24zM754 419v11h1v-11zM755 407v30h1v-30zM756 418v10h1v-10zM762 411v45h1v-45zM763 404v40h1v-40zM764 407v37h1v-37zM765 405v42h1v-42zM766 409v35h1v-35zM767 411v36h1v-36zM768 403v44h1v-44zM769 409v31h1v-31zM770 409v38h1v-38zM771 409v58h1v-58zM772 409v35h1v-35zM773 403v48h1v-48zM774 410v34h1v-34zM775 407v40h1v-40zM776 406v38h1v-38zM777 408v32h1v-32zM778 403v37h1v-37zM779 410v46h1v-46zM780 406v45h1v-45zM781 407v40h1v-40zM782 409v42h1v-42zM783 406v41h1v-41zM784 408v48h1v-48zM785 409v35h1v-35zM786 411v29h1v-29zM787 408v53h1v-53zM788 410v34h1v-34zM789 409v31h1v-31zM790 409v35h1v-35zM791 409v31h1v-31zM792 410v46h1v-46zM793 411v45h1v-45zM794 407v37h1v-37zM795 407v37h1v-37zM796 410v41h1v-41zM797 409v42h1v-42zM798 402v45h1v-45zM799 405v46h1v-46zM800 405v46h1v-46zM801 406v45h1v-45zM802 409v38h1v-38zM803 407v40h1v-40zM809 406v41h1v-41zM810 411v36h1v-36zM811 407v37h1v-37zM812 407v33h1v-33zM813 415v25h1v-25zM821 412v28h1v-28zM822 410v37h1v-37zM823 409v31h1v-31zM824 403v48h1v-48zM825 409v35h1v-35zM826 412v28h1v-28zM833 401v39h1v-39zM834 409v35h1v-35zM835 407v44h1v-44zM836 406v50h1v-50zM837 404v40h1v-40zM838 406v38h1v-38zM839 407v44h1v-44zM840 404v47h1v-47zM841 406v38h1v-38zM842 407v37h1v-37zM843 408v36h1v-36zM844 412v25h1v-25z" fill="#000"/><path d="M520 437v6h1v-6z" fill="#fff"/>
<path d="M84 79h1v9h-1zM84 173h1v8h-1zM84 180h1v9h-1zM84 274h1v8h-1zM84 281h1v9h-1zM84 375h1v8h-1zM84 382h1v9h-1zM84 476h1v8h-1zM100 79h1v5h-1zM100 177h1v4h-1zM100 180h1v5h-1zM100 278h1v4h-1zM100 281h1v5h-1zM100 379h1v4h-1zM100 382h1v5h-1zM100 480h1v4h-1zM116 79h1v5h-1zM116 177h1v4h-1zM116 180h1v5h-1zM116 278h1v4h-1zM116 281h1v5h-1zM116 379h1v4h-1zM116 382h1v5h-1zM116 480h1v4h-1zM132 79h1v5h-1zM132 177h1v4h-1zM132 180h1v5h-1zM132 278h1v4h-1zM132 281h1v5h-1zM132 379h1v4h-1zM132 382h1v5h-1zM132 480h1v4h-1zM148 79h1v9h-1zM148 173h1v8h-1zM148 180h1v9h-1zM148 274h1v8h-1zM148 281h1v9h-1zM148 375h1v8h-1zM148 382h1v9h-1zM148 476h1v8h-1zM164 79h1v5h-1zM164 177h1v4h-1zM164 180h1v5h-1zM164 278h1v4h-1zM164 281h1v5h-1zM164 379h1v4h-1zM164 382h1v5h-1zM164 480h1v4h-1zM180 79h1v5h-1zM180 177h1v4h-1zM180 180h1v5h-1zM180 278h1v4h-1zM180 281h1v5h-1zM180 379h1v4h-1zM180 382h1v5h-1zM180 480h1v4h-1zM196 79h1v5h-1zM196 177h1v4h-1zM196 180h1v5h-1zM196 278h1v4h-1zM196 281h1v5h-1zM196 379h1v4h-1zM196 382h1v5h-1zM196 480h1v4h-1zM213 79h1v9h-1zM213 173h1v8h-1zM213 180h1v9h-1zM213 274h1v8h-1zM213 281h1v9h-1zM213 375h1v8h-1zM213 382h1v9h-1zM213 476h1v8h-1zM229 79h1v5h-1zM229 177h1v4h-1zM229 180h1v5h-1zM229 278h1v4h-1zM229 281h1v5h-1zM229 379h1v4h-1zM229 382h1v5h-1zM229 480h1v4h-1zM245 79h1v5h-1zM245 177h1v4h-1zM245 180h1v5h-1zM245 278h1v4h-1zM245 281h1v5h-1zM245 379h1v4h-1zM245 382h1v5h-1zM245 480h1v4h-1zM261 79h1v5h-1zM261 177h1v4h-1zM261 180h1v5h-1zM261 278h1v4h-1zM261 281h1v5h-1zM261 379h1v4h-1zM261 382h1v5h-1zM261 480h1v4h-1zM277 79h1v9h-1zM277 173h1v8h-1zM277 180h1v9h-1zM277 274h1v8h-1zM277 281h1v9h-1zM277 375h1v8h-1zM277 382h1v9h-1zM277 476h1v8h-1zM293 79h1v5h-1zM293 177h1v4h-1zM293 180h1v5h-1zM293 278h1v4h-1zM293 281h1v5h-1zM293 379h1v4h-1zM293 382h1v5h-1zM293 480h1v4h-1zM309 79h1v5h-1zM309 177h1v4h-1zM309 180h1v5h-1zM309 278h1v4h-1zM309 281h1v5h-1zM309 379h1v4h-1zM309 382h1v5h-1zM309 480h1v4h-1zM325 79h1v5h-1zM325 177h1v4h-1zM325 180h1v5h-1zM325 278h1v4h-1zM325 281h1v5h-1zM325 379h1v4h-1zM325 382h1v5h-1zM325 480h1v4h-1zM342 79h1v9h-1zM342 173h1v8h-1zM342 180h1v9h-1zM342 274h1v8h-1zM342 281h1v9h-1zM342 375h1v8h-1zM342 382h1v9h-1zM342 476h1v8h-1zM358 79h1v5h-1zM358 177h1v4h-1zM358 180h1v5h-1zM358 278h1v4h-1zM358 281h1v5h-1zM358 379h1v4h-1zM358 382h1v5h-1zM358 480h1v4h-1zM374 79h1v5h-1zM374 177h1v4h-1zM374 180h1v5h-1zM374 278h1v4h-1zM374 281h1v5h-1zM374 379h1v4h-1zM374 382h1v5h-1zM374 480h1v4h-1zM390 79h1v5h-1zM390 177h1v4h-1zM390 180h1v5h-1zM390 278h1v4h-1zM390 281h1v5h-1zM390 379h1v4h-1zM390 382h1v5h-1zM390 480h1v4h-1zM406 79h1v9h-1zM406 173h1v8h-1zM406 180h1v9h-1zM406 274h1v8h-1zM406 281h1v9h-1zM406 375h1v8h-1zM406 382h1v9h-1zM406 476h1v8h-1zM422 79h1v5h-1zM422 177h1v4h-1zM422 180h1v5h-1zM422 278h1v4h-1zM422 281h1v5h-1zM422 379h1v4h-1zM422 382h1v5h-1zM422 480h1v4h-1zM438 79h1v5h-1zM438 177h1v4h-1zM438 180h1v5h-1zM438 278h1v4h-1zM438 281h1v5h-1zM438 379h1v4h-1zM438 382h1v5h-1zM438 480h1v4h-1zM454 79h1v5h-1zM454 177h1v4h-1zM454 180h1v5h-1zM454 278h1v4h-1zM454 281h1v5h-1zM454 379h1v4h-1zM454 382h1v5h-1zM454 480h1v4h-1zM471 79h1v9h-1zM471 173h1v8h-1zM471 180h1v9h-1zM471 274h1v8h-1zM471 281h1v9h-1zM471 375h1v8h-1zM471 382h1v9h-1zM471 476h1v8h-1zM487 79h1v5h-1zM487 177h1v4h-1zM487 180h1v5h-1zM487 278h1v4h-1zM487 281h1v5h-1zM487 379h1v4h-1zM487 382h1v5h-1zM487 480h1v4h-1zM503 79h1v5h-1zM503 177h1v4h-1zM503 180h1v5h-1zM503 278h1v4h-1zM503 281h1v5h-1zM503 379h1v4h-1zM503 382h1v5h-1zM503 480h1v4h-1zM519 79h1v5h-1zM519 177h1v4h-1zM519 180h1v5h-1zM519 278h1v4h-1zM519 281h1v5h-1zM519 379h1v4h-1zM519 382h1v5h-1zM519 480h1v4h-1zM535 79h1v9h-1zM535 173h1v8h-1zM535 180h1v9h-1zM535 274h1v8h-1zM535 281h1v9h-1zM535 375h1v8h-1zM535 382h1v9h-1zM535 476h1v8h-1zM551 79h1v5h-1zM551 177h1v4h-1zM551 180h1v5h-1zM551 278h1v4h-1zM551 281h1v5h-1zM551 379h1v4h-1zM551 382h1v5h-1zM551 480h1v4h-1zM567 79h1v5h-1zM567 177h1v4h-1zM567 180h1v5h-1zM567 278h1v4h-1zM567 281h1v5h-1zM567 379h1v4h-1zM567 382h1v5h-1zM567 480h1v4h-1zM583 79h1v5h-1zM583 177h1v4h-1zM583 180h1v5h-1zM583 278h1v4h-1zM583 281h1v5h-1zM583 379h1v4h-1zM583 382h1v5h-1zM583 480h1v4h-1zM600 79h1v9h-1zM600 173h1v8h-1zM600 180h1v9h-1zM600 274h1v8h-1zM600 281h1v9h-1zM600 375h1v8h-1zM600 382h1v9h-1zM600 476h1v8h-1zM616 79h1v5h-1zM616 177h1v4h-1zM616 180h1v5h-1zM616 278h1v4h-1zM616 281h1v5h-1zM616 379h1v4h-1zM616 382h1v5h-1zM616 480h1v4h-1zM632 79h1v5h-1zM632 177h1v4h-1zM632 180h1v5h-1zM632 278h1v4h-1zM632 281h1v5h-1zM632 379h1v4h-1zM632 382h1v5h-1zM632 480h1v4h-1zM648 79h1v5h-1zM648 177h1v4h-1zM648 180h1v5h-1zM648 278h1v4h-1zM648 281h1v5h-1zM648 379h1v4h-1zM648 382h1v5h-1zM648 480h1v4h-1zM664 79h1v9h-1zM664 173h1v8h-1zM664 180h1v9h-1zM664 274h1v8h-1zM664 281h1v9h-1zM664 375h1v8h-1zM664 382h1v9h-1zM664 476h1v8h-1zM680 79h1v5h-1zM680 177h1v4h-1zM680 180h1v5h-1zM680 278h1v4h-1zM680 281h1v5h-1zM680 379h1v4h-1zM680 382h1v5h-1zM680 480h1v4h-1zM696 79h1v5h-1zM696 177h1v4h-1zM696 180h1v5h-1zM696 278h1v4h-1zM696 281h1v5h-1zM696 379h1v4h-1zM696 382h1v5h-1zM696 480h1v4h-1zM712 79h1v5h-1zM712 177h1v4h-1zM712 180h1v5h-1zM712 278h1v4h-1zM712 281h1v5h-1zM712 379h1v4h-1zM712 382h1v5h-1zM712 480h1v4h-1zM729 79h1v9h-1zM729 173h1v8h-1zM729 180h1v9h-1zM729 274h1v8h-1zM729 281h1v9h-1zM729 375h1v8h-1zM729 382h1v9h-1zM729 476h1v8h-1zM745 79h1v5h-1zM745 177h1v4h-1zM745 180h1v5h-1zM745 278h1v4h-1zM745 281h1v5h-1zM745 379h1v4h-1zM745 382h1v5h-1zM745 480h1v4h-1zM761 79h1v5h-1zM761 177h1v4h-1zM761 180h1v5h-1zM761 278h1v4h-1zM761 281h1v5h-1zM761 379h1v4h-1zM761 382h1v5h-1zM761 480h1v4h-1zM777 79h1v5h-1zM777 177h1v4h-1zM777 180h1v5h-1zM777 278h1v4h-1zM777 281h1v5h-1zM777 379h1v4h-1zM777 382h1v5h-1zM777 480h1v4h-1zM793 79h1v9h-1zM793 173h1v8h-1zM793 180h1v9h-1zM793 274h1v8h-1zM793 281h1v9h-1zM793 375h1v8h-1zM793 382h1v9h-1zM793 476h1v8h-1zM809 79h1v5h-1zM809 177h1v4h-1zM809 180h1v5h-1zM809 278h1v4h-1zM809 281h1v5h-1zM809 379h1v4h-1zM809 382h1v5h-1zM809 480h1v4h-1zM825 79h1v5h-1zM825 177h1v4h-1zM825 180h1v5h-1zM825 278h1v4h-1zM825 281h1v5h-1zM825 379h1v4h-1zM825 382h1v5h-1zM825 480h1v4h-1zM841 79h1v5h-1zM841 177h1v4h-1zM841 180h1v5h-1zM841 278h1v4h-1zM841 281h1v5h-1zM841 379h1v4h-1zM841 382h1v5h-1zM841 480h1v4h-1zM858 79h1v9h-1zM858 173h1v8h-1zM858 180h1v9h-1zM858 274h1v8h-1zM858 281h1v9h-1zM858 375h1v8h-1zM858 382h1v9h-1zM858 476h1v8h-1zM84 86h7v1h-7zM852 86h7v1h-7zM84 108h15v1h-15zM844 108h15v1h-15zM84 111h7v1h-7zM852 111h7v1h-7zM84 115h7v1h-7zM852 115h7v1h-7zM84 119h7v1h-7zM852 119h7v1h-7zM84 124h7v1h-7zM852 124h7v1h-7zM84 130h7v1h-7zM852 130h7v1h-7zM84 137h7v1h-7zM852 137h7v1h-7zM84 146h7v1h-7zM852 146h7v1h-7zM84 159h7v1h-7zM852 159h7v1h-7zM84 183h7v1h-7zM852 183h7v1h-7zM84 206h15v1h-15zM844 206h15v1h-15zM84 209h7v1h-7zM852 209h7v1h-7zM84 213h7v1h-7zM852 213h7v1h-7zM84 218h7v1h-7zM852 218h7v1h-7zM84 223h7v1h-7zM852 223h7v1h-7zM84 229h7v1h-7zM852 229h7v1h-7zM84 236h7v1h-7zM852 236h7v1h-7zM84 245h7v1h-7zM852 245h7v1h-7zM84 259h7v1h-7zM852 259h7v1h-7zM84 292h15v1h-15zM844 292h15v1h-15zM84 296h7v1h-7zM852 296h7v1h-7zM84 300h7v1h-7zM852 300h7v1h-7zM84 306h7v1h-7zM852 306h7v1h-7zM84 312h7v1h-7zM852 312h7v1h-7zM84 319h7v1h-7zM852 319h7v1h-7zM84 328h7v1h-7zM852 328h7v1h-7zM84 339h7v1h-7zM852 339h7v1h-7zM84 355h7v1h-7zM852 355h7v1h-7zM84 396h7v1h-7zM852 396h7v1h-7zM84 419h15v1h-15zM844 419h15v1h-15zM84 422h7v1h-7zM852 422h7v1h-7zM84 426h7v1h-7zM852 426h7v1h-7zM84 431h7v1h-7zM852 431h7v1h-7zM84 436h7v1h-7zM852 436h7v1h-7zM84 442h7v1h-7zM852 442h7v1h-7zM84 450h7v1h-7zM852 450h7v1h-7zM84 460h7v1h-7zM852 460h7v1h-7zM84 474h7v1h-7zM852 474h7v1h-7zM84 79h775v1h-775zM84 180h775v1h-775zM84 281h775v1h-775zM84 382h775v1h-775zM84 483h775v1h-775zM84 79h1v405h-1zM858 79h1v405h-1z" fill="#000"/>
</g>
<defs><filter id="al" x="0" y="0" width="900" height="548" filterUnits="userSpaceOnUse" color-interpolation-filters="sRGB"><feComponentTransfer><feFuncA type="discrete" tableValues="0 0 0 1 1 1 1 1"/></feComponentTransfer></filter><filter id="ab" x="0" y="0" width="900" height="548" filterUnits="userSpaceOnUse" color-interpolation-filters="sRGB"><feComponentTransfer><feFuncA type="discrete" tableValues="0 0 0 0 0 0 0 0 0 0 0 1 1 1 1 1 1 1 1 1"/></feComponentTransfer></filter></defs>
<g>
<g filter="url(#ab)">
<text x="442.6" y="34.5" font-size="25" font-weight="bold" text-anchor="middle" letter-spacing="0.05">INTERBALL-Tail RF15-I SOFT X-RAY EMISSION</text>
<text x="450" y="68.5" font-size="25" font-weight="bold" text-anchor="middle" letter-spacing="0.3">970213</text>
<text x="471" y="527.5" font-size="16.4" font-weight="bold" text-anchor="middle">time UT</text>
</g>
<g filter="url(#al)">
<text x="83.7" y="507" font-size="16.6" text-anchor="middle" letter-spacing="0.2">00:00</text>
<text x="148.2" y="507" font-size="16.6" text-anchor="middle" letter-spacing="0.2">02:00</text>
<text x="212.7" y="507" font-size="16.6" text-anchor="middle" letter-spacing="0.2">04:00</text>
<text x="277.2" y="507" font-size="16.6" text-anchor="middle" letter-spacing="0.2">06:00</text>
<text x="341.7" y="507" font-size="16.6" text-anchor="middle" letter-spacing="0.2">08:00</text>
<text x="406.2" y="507" font-size="16.6" text-anchor="middle" letter-spacing="0.2">10:00</text>
<text x="470.7" y="507" font-size="16.6" text-anchor="middle" letter-spacing="0.2">12:00</text>
<text x="535.2" y="507" font-size="16.6" text-anchor="middle" letter-spacing="0.2">14:00</text>
<text x="599.7" y="507" font-size="16.6" text-anchor="middle" letter-spacing="0.2">16:00</text>
<text x="664.2" y="507" font-size="16.6" text-anchor="middle" letter-spacing="0.2">18:00</text>
<text x="728.7" y="507" font-size="16.6" text-anchor="middle" letter-spacing="0.2">20:00</text>
<text x="793.2" y="507" font-size="16.6" text-anchor="middle" letter-spacing="0.2">22:00</text>
<text x="857.7" y="507" font-size="16.6" text-anchor="middle" letter-spacing="0.2">24:00</text>
<text transform="translate(26 262) rotate(-90)" class="big" font-size="25" text-anchor="middle">count rate</text>
<text transform="translate(885.5 128.7) rotate(-90)" class="big" font-size="20.9" text-anchor="middle">2 - 3 keV</text>
<text transform="translate(886.5 231) rotate(-90)" class="big" font-size="20.9" text-anchor="middle">3 - 5 keV</text>
<text transform="translate(888.5 327.6) rotate(-90)" class="big" font-size="20.9" text-anchor="middle">5 - 8 keV</text>
<text transform="translate(889.5 430.6) rotate(-90)" class="big" font-size="20.9" text-anchor="middle">10 - 15 keV</text>
<text x="80" y="114" font-size="16.6" text-anchor="end">10</text>
<text x="80" y="180" font-size="16.6" text-anchor="end">1</text>
<text x="80" y="212" font-size="16.6" text-anchor="end">10</text>
<text x="80" y="281" font-size="16.6" text-anchor="end">1</text>
<text x="80" y="298" font-size="16.6" text-anchor="end">10</text>
<text x="80" y="382" font-size="16.6" text-anchor="end">1</text>
<text x="80" y="425" font-size="16.6" text-anchor="end">10</text>
</g>
</g>
</svg></body></html>
